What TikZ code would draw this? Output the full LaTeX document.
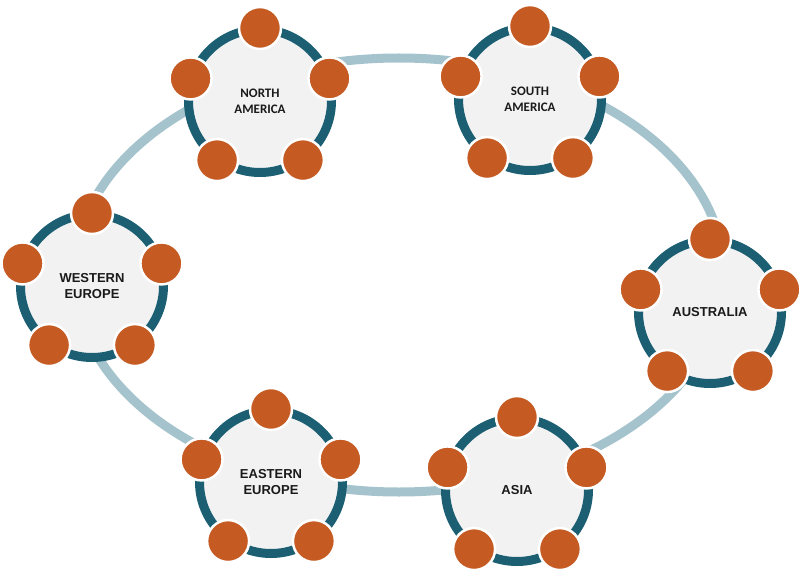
\documentclass[tikz,border=0pt]{standalone}
\usepackage{fontspec}
\setmainfont{Liberation Sans}
\newfontfamily\calfont{Carlito}
\usetikzlibrary{calc}
\definecolor{ringteal}{HTML}{1C5F73}
\definecolor{hubgray}{HTML}{F2F2F2}
\definecolor{satorange}{HTML}{C55A22}
\definecolor{loopblue}{HTML}{A5C3CC}
\definecolor{labelink}{HTML}{1A1A1A}
\tikzset{
  hub/.style={circle, draw=ringteal, line width=9pt, fill=hubgray, minimum size=143pt,
    inner sep=0pt, align=center, text=labelink, font=\fontsize{13}{16}\selectfont\bfseries},
  calhub/.style={hub, font=\calfont\fontsize{13}{16}\selectfont\bfseries},
  satellite/.style={circle, draw=white, line width=2.5pt, fill=satorange, minimum size=42pt, inner sep=0pt},
  loopline/.style={draw=loopblue, line width=9pt}
}
\newcommand\mkcluster[5]{% name, x, y, style, text
  \node[#4] (#1) at (#2,#3) {#5};
  \foreach \a in {-90,-18,54,126,198}
    \node[satellite] (#1-\a) at ($(#1)+({73*cos(\a)},{73*sin(\a)})$) {};
}
\begin{document}
\begin{tikzpicture}[x=1pt,y=-1pt]
\useasboundingbox (0,0) rectangle (800,572);
\coordinate (loopc) at (399,275);
\draw[loopline] (loopc) ellipse [x radius=325, y radius=217];
\mkcluster{na}{260}{101}{calhub}{NORTH\\AMERICA}
\mkcluster{sa}{530}{99}{calhub}{SOUTH\\AMERICA}
\mkcluster{we}{92}{286}{hub}{WESTERN\\EUROPE}
\mkcluster{au}{710}{312}{hub}{AUSTRALIA}
\mkcluster{ee}{271}{482}{hub}{EASTERN\\EUROPE}
\mkcluster{as}{517}{490}{hub}{ASIA}
\end{tikzpicture}
\end{document}
